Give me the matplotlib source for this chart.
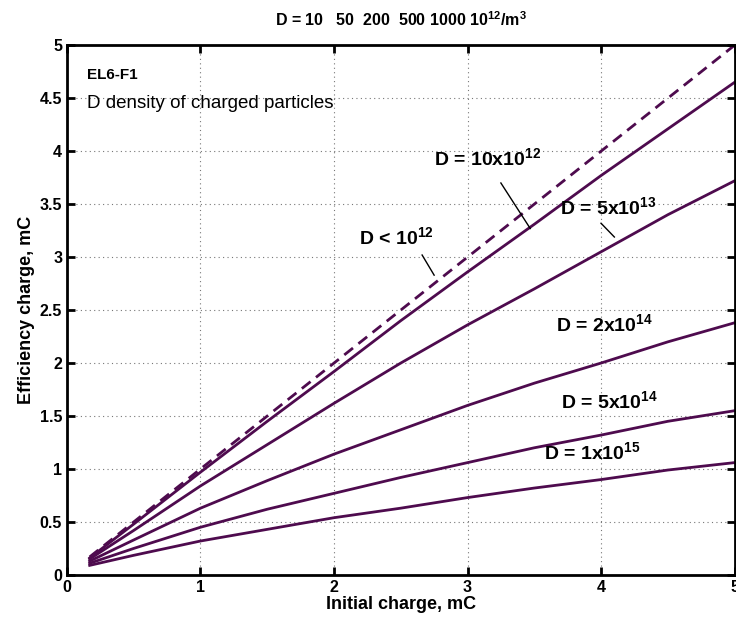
import matplotlib
matplotlib.use("Agg")
import matplotlib.pyplot as plt

plt.rcParams["font.family"] = ["Liberation Sans", "DejaVu Sans"]
plt.rcParams["mathtext.fontset"] = "custom"
plt.rcParams["mathtext.rm"] = "Liberation Sans"
plt.rcParams["mathtext.bf"] = "Liberation Sans:bold"

LINE_COLOR = "#4e0b4e"

# initial charge, mC
x = [0.17, 0.5, 1.0, 1.5, 2.0, 2.5, 3.0, 3.5, 4.0, 4.5, 5.0]
# efficiency charge, mC, for each density
d_low = [0.17, 0.5, 1.0, 1.5, 2.0, 2.5, 3.0, 3.5, 4.0, 4.5, 5.0]
d_10 = [0.16, 0.48, 0.97, 1.45, 1.92, 2.40, 2.86, 3.31, 3.77, 4.21, 4.65]
d_50 = [0.15, 0.42, 0.84, 1.23, 1.62, 2.00, 2.36, 2.70, 3.05, 3.40, 3.72]
d_200 = [0.13, 0.33, 0.63, 0.89, 1.14, 1.37, 1.60, 1.81, 2.00, 2.20, 2.38]
d_500 = [0.11, 0.25, 0.45, 0.62, 0.77, 0.92, 1.06, 1.20, 1.32, 1.45, 1.55]
d_1000 = [0.09, 0.185, 0.32, 0.43, 0.54, 0.63, 0.73, 0.82, 0.90, 0.99, 1.06]

fig = plt.figure(figsize=(7.36, 6.29), dpi=100)
ax = fig.add_axes([0.091, 0.086, 0.907, 0.842])

ax.plot(x, d_low, color=LINE_COLOR, lw=2, linestyle=(0, (4, 2.5)))
for ys in (d_10, d_50, d_200, d_500, d_1000):
    ax.plot(x, ys, color=LINE_COLOR, lw=2)

ax.set_xlim(0, 5)
ax.set_ylim(0, 5)
ax.set_xticks([0, 1, 2, 3, 4, 5])
ax.set_yticks([0, 0.5, 1, 1.5, 2, 2.5, 3, 3.5, 4, 4.5, 5])
ax.set_yticklabels(["0", "0.5", "1", "1.5", "2", "2.5", "3", "3.5", "4", "4.5", "5"])
ax.grid(True, linestyle=(0, (1, 3)), color="#777777", linewidth=0.8)
ax.tick_params(direction="in", length=6, width=2, top=True, right=True,
               labelsize=11.5)
for lbl in ax.get_xticklabels() + ax.get_yticklabels():
    lbl.set_fontweight("bold")
for sp in ax.spines.values():
    sp.set_linewidth(2)

ax.set_xlabel("Initial charge, mC", fontsize=13, fontweight="bold", labelpad=1)
ax.set_ylabel("Efficiency charge, mC", fontsize=13, fontweight="bold", labelpad=3)
ax.set_title(r"D = 10   50  200  500 1000 10$^{\mathbf{12}}$/m$^{\mathbf{3}}$",
             fontsize=11.5, fontweight="bold", pad=14)

ax.text(0.15, 4.72, "EL6-F1", fontsize=11, fontweight="bold", va="center")
ax.text(0.15, 4.45, "D density of charged particles", fontsize=13.5, va="center")

lab = dict(fontsize=14, fontweight="bold", va="center")
ax.text(2.75, 3.93, r"D = 10x10$^{\mathbf{12}}$", **lab)
ax.text(3.69, 3.47, r"D = 5x10$^{\mathbf{13}}$", **lab)
ax.text(2.19, 3.18, r"D < 10$^{\mathbf{12}}$", **lab)
ax.text(3.66, 2.36, r"D = 2x10$^{\mathbf{14}}$", **lab)
ax.text(3.70, 1.63, r"D = 5x10$^{\mathbf{14}}$", **lab)
ax.text(3.57, 1.15, r"D = 1x10$^{\mathbf{15}}$", **lab)

ax.plot([3.25, 3.47], [3.70, 3.27], color="black", lw=1)
ax.plot([4.00, 4.10], [3.32, 3.19], color="black", lw=1)
ax.plot([2.66, 2.75], [3.02, 2.83], color="black", lw=1)

fig.savefig("out.png", dpi=100)
